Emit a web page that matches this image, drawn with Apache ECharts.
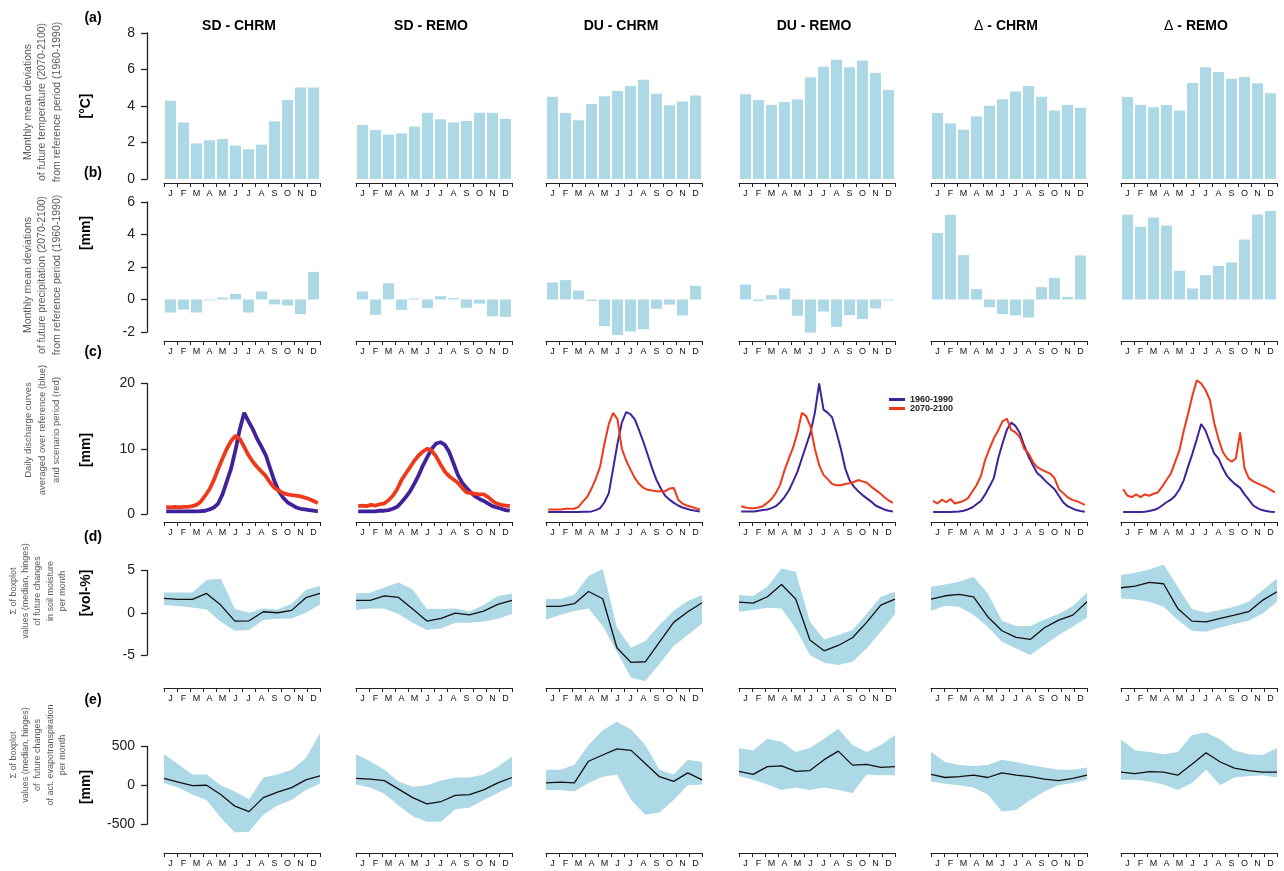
<!DOCTYPE html>
<html>
<head>
<meta charset="utf-8">
<title>Monthly climate change signals</title>
<script src="https://cdn.jsdelivr.net/npm/echarts@6/dist/echarts.min.js"></script>
<style>
  html, body { margin: 0; padding: 0; background: #ffffff; }
  #chart { width: 1284px; height: 871px; }
</style>
</head>
<body>
<div id="chart"></div>
<script>
// ---------------------------------------------------------------------------
// Data
// ---------------------------------------------------------------------------
const monthNames = ['Jan', 'Feb', 'Mar', 'Apr', 'May', 'Jun', 'Jul', 'Aug', 'Sep', 'Oct', 'Nov', 'Dec'];
const columnTitles = ['SD - CHRM', 'SD - REMO', 'DU - CHRM', 'DU - REMO', '\u0394 - CHRM', '\u0394 - REMO'];
const periodNames = ['1960-1990', '2070-2100'];

// (a) monthly mean temperature deviation [°C]
const tempSdChrm    = [4.29, 3.10, 1.95, 2.12, 2.19, 1.83, 1.63, 1.88, 3.16, 4.33, 5.02, 5.02];
const tempSdRemo    = [2.96, 2.68, 2.43, 2.50, 2.87, 3.63, 3.27, 3.10, 3.18, 3.63, 3.63, 3.30];
const tempDuChrm    = [4.51, 3.62, 3.22, 4.11, 4.53, 4.82, 5.10, 5.44, 4.67, 4.04, 4.24, 4.57];
const tempDuRemo    = [4.64, 4.33, 4.05, 4.22, 4.35, 5.57, 6.15, 6.54, 6.12, 6.50, 5.81, 4.88];
const tempDeltaChrm = [3.62, 3.05, 2.70, 3.43, 4.02, 4.37, 4.80, 5.10, 4.51, 3.76, 4.05, 3.91];
const tempDeltaRemo = [4.49, 4.05, 3.93, 4.05, 3.76, 5.26, 6.12, 5.86, 5.50, 5.59, 5.24, 4.70];

// (b) monthly mean precipitation deviation [mm]
const precSdChrm    = [-0.80, -0.62, -0.80, -0.05, 0.12, 0.35, -0.80, 0.49, -0.30, -0.37, -0.90, 1.70];
const precSdRemo    = [0.49, -0.94, 1.00, -0.64, 0.06, -0.53, 0.20, 0.08, -0.51, -0.25, -1.03, -1.07];
const precDuChrm    = [1.05, 1.19, 0.55, -0.08, -1.64, -2.19, -1.97, -1.83, -0.57, -0.31, -0.98, 0.84];
const precDuRemo    = [0.92, -0.08, 0.27, 0.68, -1.00, -2.03, -0.74, -1.68, -0.96, -1.19, -0.55, -0.06];
const precDeltaChrm = [4.10, 5.21, 2.73, 0.64, -0.47, -0.90, -0.98, -1.11, 0.76, 1.33, 0.16, 2.71];
const precDeltaRemo = [5.21, 4.47, 5.05, 4.55, 1.76, 0.68, 1.50, 2.07, 2.28, 3.69, 5.23, 5.44];

// (c) discharge [mm], one value per dekad (3 per month), reference and scenario
const qSdChrmRef     = [0.4,0.4,0.4, 0.4,0.4,0.4, 0.4,0.4,0.45, 0.5,0.7,1.0, 1.6,3.0,5.0, 7.0,9.8,13.0, 15.5,14.2,13.0, 11.5,10.3,9.0, 7.0,5.0,3.5, 2.5,1.8,1.4, 1.0,0.8,0.7, 0.6,0.5,0.4];
const qSdChrmScen    = [1.1,1.0,1.1, 1.0,1.1,1.1, 1.2,1.4,1.9, 2.8,3.8,5.2, 6.9,8.5,10.0, 11.2,12.0,11.5, 10.3,9.0,8.0, 7.2,6.5,5.8, 4.8,4.0,3.6, 3.2,3.0,2.9, 2.8,2.7,2.5, 2.3,2.0,1.7];
const qSdRemoRef     = [0.4,0.4,0.4, 0.4,0.4,0.5, 0.5,0.6,0.8, 1.1,1.8,2.6, 3.5,4.7,6.0, 7.5,8.8,10.0, 10.8,11.0,10.6, 9.5,7.8,6.0, 4.8,4.0,3.3, 2.7,2.3,2.0, 1.6,1.2,1.0, 0.8,0.6,0.5];
const qSdRemoScen    = [1.2,1.3,1.2, 1.4,1.3,1.5, 1.6,2.1,2.8, 3.8,5.2,6.2, 7.2,8.2,9.0, 9.6,10.0,9.7, 8.8,7.6,6.5, 5.8,5.3,4.8, 4.0,3.3,3.2, 3.1,3.0,3.0, 2.6,2.0,1.6, 1.4,1.3,1.2];
const qDuChrmRef     = [0.3,0.3,0.3, 0.3,0.3,0.3, 0.3,0.3,0.35, 0.35,0.4,0.6, 0.9,1.8,3.2, 7.0,10.8,14.0, 15.6,15.3,14.5, 12.8,11.0,9.0, 7.0,5.2,3.9, 2.8,2.2,1.7, 1.3,1.0,0.8, 0.6,0.5,0.4];
const qDuChrmScen    = [0.7,0.7,0.7, 0.7,0.8,0.8, 0.8,1.1,1.9, 2.6,3.9,5.4, 7.3,10.8,13.8, 15.5,14.5,10.0, 8.2,6.8,5.5, 4.6,4.0,3.7, 3.6,3.5,3.5, 3.5,3.9,4.0, 2.2,1.6,1.3, 1.1,0.9,0.7];
const qDuRemoRef     = [0.4,0.4,0.4, 0.4,0.5,0.6, 0.7,0.9,1.2, 1.8,2.6,3.6, 5.0,6.5,8.5, 10.5,12.5,15.5, 20.0,16.0,15.5, 14.8,12.5,10.0, 7.0,5.2,4.2, 3.5,2.9,2.4, 1.9,1.3,1.0, 0.7,0.5,0.4];
const qDuRemoScen    = [1.2,1.0,0.9, 0.9,1.0,1.2, 1.7,2.3,3.2, 4.5,6.7,8.5, 10.2,12.5,15.5, 15.0,13.4,10.0, 7.5,6.0,5.3, 4.6,4.4,4.4, 4.6,4.7,4.9, 5.2,5.0,4.8, 4.2,3.7,3.2, 2.6,2.1,1.7];
const qDeltaChrmRef  = [0.3,0.3,0.3, 0.3,0.3,0.35, 0.4,0.5,0.7, 1.0,1.5,2.0, 3.0,4.2,5.5, 8.5,10.8,12.9, 14.0,13.5,12.4, 10.5,8.8,7.5, 6.3,5.7,5.0, 4.4,3.8,2.8, 1.8,1.2,0.9, 0.6,0.45,0.35];
const qDeltaChrmScen = [2.0,1.6,2.2, 1.8,2.3,1.6, 1.8,2.0,2.4, 3.4,4.4,5.8, 8.3,10.0,11.6, 12.8,14.2,14.6, 12.9,12.5,11.8, 10.0,9.3,8.0, 7.2,6.8,6.5, 6.2,5.5,3.8, 3.2,2.6,2.2, 2.0,1.7,1.4];
const qDeltaRemoRef  = [0.3,0.3,0.3, 0.3,0.3,0.35, 0.45,0.6,0.85, 1.3,1.8,2.2, 2.8,3.8,5.2, 7.3,9.3,11.5, 13.8,12.8,11.0, 9.3,8.5,7.0, 5.8,5.1,4.5, 4.0,3.0,2.2, 1.3,0.9,0.6, 0.45,0.35,0.3];
const qDeltaRemoScen = [3.8,2.8,2.6, 3.0,2.6,3.0, 2.8,3.1,3.3, 4.2,5.2,6.2, 8.0,9.8,12.8, 15.4,18.2,20.5, 20.0,19.0,17.5, 14.0,11.5,9.5, 8.5,8.0,8.5, 12.5,7.0,5.5, 5.0,4.7,4.4, 4.1,3.7,3.3];

// (d) soil moisture change [vol-%]: lower hinge, median, upper hinge
const smLowSdChrm    = [0.91, 0.79, 0.63, 0.39, -1.07, -2.13, -2.05, -0.87, -0.71, -0.67, 0.00, 0.99];
const smMedSdChrm    = [1.70, 1.58, 1.58, 2.29, 0.91, -0.99, -0.95, 0.12, 0.00, 0.28, 1.78, 2.29];
const smUppSdChrm    = [2.40, 2.40, 2.40, 3.87, 4.02, 0.43, 0.00, 0.51, 0.39, 1.03, 2.68, 3.16];
const smLowSdRemo    = [0.32, 0.51, 0.51, -0.16, -1.18, -2.05, -1.85, -1.18, -1.18, -1.03, -0.71, -0.16];
const smMedSdRemo    = [1.46, 1.46, 2.00, 1.81, 0.43, -0.99, -0.67, -0.04, -0.24, 0.20, 0.99, 1.46];
const smUppSdRemo    = [2.29, 2.37, 3.00, 3.59, 2.76, 0.43, 0.43, 0.51, 0.16, 0.91, 1.97, 2.29];
const smLowDuChrm    = [-0.79, -0.28, 0.20, 0.51, -1.58, -4.62, -7.69, -8.09, -6.07, -3.94, -2.64, -1.26];
const smMedDuChrm    = [0.75, 0.75, 1.07, 2.52, 1.66, -4.14, -5.88, -5.80, -3.47, -1.14, 0.12, 1.18];
const smUppDuChrm    = [1.62, 1.62, 2.13, 4.34, 5.17, -1.74, -4.14, -3.35, -1.46, 0.24, 1.38, 2.09];
const smLowDuRemo    = [0.12, 0.32, 0.59, 0.51, -1.85, -5.01, -5.92, -6.19, -5.80, -4.22, -2.25, -0.16];
const smMedDuRemo    = [1.26, 1.14, 1.89, 3.35, 1.62, -3.23, -4.50, -3.87, -2.96, -1.14, 0.91, 1.62];
const smUppDuRemo    = [2.09, 1.97, 3.08, 5.25, 4.85, -1.07, -3.16, -2.64, -2.05, -0.16, 1.89, 2.49];
const smLowDeltaChrm = [0.24, 0.83, 0.71, -0.28, -1.66, -3.43, -4.22, -5.01, -3.83, -2.64, -1.66, -0.55];
const smMedDeltaChrm = [1.62, 2.01, 2.17, 1.89, -0.47, -2.13, -2.92, -3.16, -1.78, -0.87, -0.28, 1.30];
const smUppDeltaChrm = [3.08, 3.35, 3.67, 4.26, 2.29, -0.95, -1.58, -1.58, -0.79, -0.16, 0.79, 2.37];
const smLowDeltaRemo = [1.70, 1.58, 1.30, 0.71, -0.87, -2.13, -2.25, -1.74, -1.34, -0.95, -0.08, 1.30];
const smMedDeltaRemo = [2.96, 3.16, 3.59, 3.43, 0.51, -0.99, -1.07, -0.67, -0.28, 0.12, 1.50, 2.49];
const smUppDeltaRemo = [4.46, 4.73, 5.13, 5.72, 3.08, 0.43, 0.00, 0.32, 0.71, 1.30, 2.68, 4.06];

// (e) actual evapotranspiration change [mm]: lower hinge, median, upper hinge
const etLowSdChrm    = [30, -30, -120, -190, -420, -610, -600, -380, -260, -190, -60, 20];
const etMedSdChrm    = [90, 40, -5, 0, -120, -270, -340, -160, -90, -30, 70, 120];
const etUppSdChrm    = [400, 270, 140, 140, 0, -80, -180, 100, 140, 200, 350, 670];
const etLowSdRemo    = [10, -30, -110, -260, -400, -470, -470, -310, -290, -190, -100, -10];
const etMedSdRemo    = [90, 80, 60, -50, -160, -240, -210, -130, -120, -60, 30, 100];
const etUppSdRemo    = [400, 310, 200, 50, -20, 0, 60, 100, 100, 140, 240, 370];
const etLowDuChrm    = [-60, -60, -80, 30, 110, 140, -190, -380, -350, -190, 0, 10];
const etMedDuChrm    = [30, 40, 30, 310, 390, 470, 450, 280, 110, 50, 160, 70];
const etUppDuChrm    = [200, 200, 260, 520, 710, 820, 720, 520, 200, 140, 330, 300];
const etLowDuRemo    = [120, 70, 10, -60, -30, -60, -30, -60, -100, 140, 130, 130];
const etMedDuRemo    = [180, 140, 240, 250, 180, 190, 330, 440, 260, 270, 230, 240];
const etUppDuRemo    = [480, 450, 600, 560, 430, 480, 600, 730, 520, 430, 520, 650];
const etLowDeltaChrm = [50, 20, 0, -30, -120, -340, -320, -190, -80, 0, 30, 70];
const etMedDeltaChrm = [140, 100, 110, 130, 100, 160, 130, 110, 80, 60, 90, 130];
const etUppDeltaChrm = [430, 300, 260, 250, 260, 330, 300, 260, 230, 200, 200, 230];
const etLowDeltaRemo = [70, 70, 50, 10, -60, 30, 200, 0, 100, 120, 130, 100];
const etMedDeltaRemo = [170, 150, 175, 170, 130, 270, 420, 300, 220, 190, 170, 170];
const etUppDeltaRemo = [590, 450, 430, 400, 430, 650, 680, 590, 450, 400, 390, 480];

// Per-column grouping of the arrays above
const panelTemp  = [tempSdChrm, tempSdRemo, tempDuChrm, tempDuRemo, tempDeltaChrm, tempDeltaRemo];
const panelPrec  = [precSdChrm, precSdRemo, precDuChrm, precDuRemo, precDeltaChrm, precDeltaRemo];
const panelQRef  = [qSdChrmRef, qSdRemoRef, qDuChrmRef, qDuRemoRef, qDeltaChrmRef, qDeltaRemoRef];
const panelQScen = [qSdChrmScen, qSdRemoScen, qDuChrmScen, qDuRemoScen, qDeltaChrmScen, qDeltaRemoScen];
const panelSoil  = [
  [smLowSdChrm, smMedSdChrm, smUppSdChrm], [smLowSdRemo, smMedSdRemo, smUppSdRemo],
  [smLowDuChrm, smMedDuChrm, smUppDuChrm], [smLowDuRemo, smMedDuRemo, smUppDuRemo],
  [smLowDeltaChrm, smMedDeltaChrm, smUppDeltaChrm], [smLowDeltaRemo, smMedDeltaRemo, smUppDeltaRemo]
];
const panelEvap  = [
  [etLowSdChrm, etMedSdChrm, etUppSdChrm], [etLowSdRemo, etMedSdRemo, etUppSdRemo],
  [etLowDuChrm, etMedDuChrm, etUppDuChrm], [etLowDuRemo, etMedDuRemo, etUppDuRemo],
  [etLowDeltaChrm, etMedDeltaChrm, etUppDeltaChrm], [etLowDeltaRemo, etMedDeltaRemo, etUppDeltaRemo]
];

// ---------------------------------------------------------------------------
// Layout and style
// ---------------------------------------------------------------------------
const FONT = '"Liberation Sans", Arial, Helvetica, sans-serif';
const BAR_COLOR = '#ADD8E6';
const REF_COLOR = '#40229A';
const SCEN_COLOR = '#EE3A1A';
const AXIS_COLOR = '#222222';

const colLeft = [164, 356, 546, 739, 931, 1121];
const colWidth = 156;

// pixel rows: tick range drawn on the y axis, data range of the plotting region
const rows = [
  { tickMin: 0,    tickMax: 8,   interval: 2,   yTop: 33,    yBot: 179, dataMin: 0,    dataMax: 8,    monthAxisY: 183, xMax: 1 },
  { tickMin: -2,   tickMax: 6,   interval: 2,   yTop: 202,   yBot: 332, dataMin: -2.5, dataMax: 6,    monthAxisY: 341, xMax: 1 },
  { tickMin: 0,    tickMax: 20,  interval: 10,  yTop: 383.5, yBot: 514, dataMin: -0.5, dataMax: 21.5, monthAxisY: 522, xMax: 36 },
  { tickMin: -5,   tickMax: 5,   interval: 5,   yTop: 570.5, yBot: 655, dataMin: -8.5, dataMax: 6.2,  monthAxisY: 688, xMax: 11 },
  { tickMin: -500, tickMax: 500, interval: 500, yTop: 746.5, yBot: 824, dataMin: -700, dataMax: 850,  monthAxisY: 853, xMax: 11 }
];

const grids = [], xAxes = [], yAxes = [], series = [];

function addPanel(r, c) {
  const row = rows[r];
  const ppu = (row.yBot - row.yTop) / (row.tickMax - row.tickMin);
  const top = row.yTop + (row.tickMax - row.dataMax) * ppu;
  const height = (row.dataMax - row.dataMin) * ppu;
  const g = grids.length;
  grids.push({ left: colLeft[c], top: top, width: colWidth, height: height, containLabel: false, outerBoundsMode: 'none' });
  const cat = xAxes.length;
  xAxes.push({
    gridIndex: g, type: 'category', position: 'bottom', data: monthNames, boundaryGap: true,
    offset: row.monthAxisY - (top + height),
    axisLine: { show: true, onZero: false, lineStyle: { color: AXIS_COLOR, width: 1 } },
    axisTick: { show: true, interval: 0, length: 4, lineStyle: { color: AXIS_COLOR, width: 1 } },
    axisLabel: { interval: 0, formatter: function (v) { return v.charAt(0); }, fontSize: 9, color: '#111', margin: 6, fontFamily: FONT },
    splitLine: { show: false }
  });
  const val = xAxes.length;
  xAxes.push({ gridIndex: g, type: 'value', position: 'top', min: 0, max: row.xMax, show: false,
    axisLine: { onZero: false }, splitLine: { show: false } });
  const y = yAxes.length;
  yAxes.push({ gridIndex: g, type: 'value', min: row.dataMin, max: row.dataMax, show: false,
    axisLine: { onZero: false }, splitLine: { show: false } });
  return { g: g, cat: cat, val: val, y: y };
}

function addValueAxis(r) {
  const row = rows[r];
  const g = grids.length;
  grids.push({ left: 147, top: row.yTop, width: 4, height: row.yBot - row.yTop, containLabel: false, outerBoundsMode: 'none' });
  xAxes.push({ gridIndex: g, type: 'value', min: 0, max: 1, show: false, splitLine: { show: false } });
  yAxes.push({
    gridIndex: g, type: 'value', position: 'left', min: row.tickMin, max: row.tickMax, interval: row.interval,
    axisLine: { show: true, onZero: false, lineStyle: { color: AXIS_COLOR, width: 1.3 } },
    axisTick: { show: true, length: 6, lineStyle: { color: AXIS_COLOR, width: 1.3 } },
    axisLabel: { fontSize: 14, color: '#222', margin: 12, fontFamily: FONT },
    splitLine: { show: false }
  });
}

// hinge band: one polygon through the upper hinges and back along the lower hinges
function renderBand(params, api) {
  if (params.dataIndexInside !== 0) return null;
  const n = params.dataInsideLength;
  const pts = [];
  for (let j = 0; j < n; j++) pts.push(api.coord([api.value(0, j), api.value(2, j)]));
  for (let j = n - 1; j >= 0; j--) pts.push(api.coord([api.value(0, j), api.value(1, j)]));
  return { type: 'polygon', shape: { points: pts }, style: { fill: BAR_COLOR, stroke: null } };
}

for (let c = 0; c < 6; c++) {
  // (a) temperature bars
  let ax = addPanel(0, c);
  series.push({ type: 'bar', name: 'temperature ' + columnTitles[c], xAxisIndex: ax.cat, yAxisIndex: ax.y,
    data: panelTemp[c], barCategoryGap: '15%', itemStyle: { color: BAR_COLOR }, silent: true });

  // (b) precipitation bars
  ax = addPanel(1, c);
  series.push({ type: 'bar', name: 'precipitation ' + columnTitles[c], xAxisIndex: ax.cat, yAxisIndex: ax.y,
    data: panelPrec[c], barCategoryGap: '15%', itemStyle: { color: BAR_COLOR }, silent: true });

  // (c) discharge curves
  ax = addPanel(2, c);
  const lw = c < 2 ? 3.8 : 2;
  [[panelQRef[c], REF_COLOR, periodNames[0]], [panelQScen[c], SCEN_COLOR, periodNames[1]]].forEach(function (s) {
    series.push({ type: 'line', name: s[2], xAxisIndex: ax.val, yAxisIndex: ax.y,
      data: s[0].map(function (v, k) { return [k + 0.5, v]; }),
      symbol: 'none', lineStyle: { color: s[1], width: lw }, itemStyle: { color: s[1] }, silent: true });
  });

  // (d) soil moisture and (e) evapotranspiration: hinge band + median
  [[3, panelSoil[c]], [4, panelEvap[c]]].forEach(function (p) {
    const a = addPanel(p[0], c);
    const low = p[1][0], med = p[1][1], upp = p[1][2];
    series.push({ type: 'custom', name: 'hinges', xAxisIndex: a.val, yAxisIndex: a.y,
      data: low.map(function (v, i) { return [i, v, upp[i]]; }),
      encode: { x: 0, y: [1, 2] }, renderItem: renderBand, clip: true, silent: true, z: 2 });
    series.push({ type: 'line', name: 'median', xAxisIndex: a.val, yAxisIndex: a.y,
      data: med.map(function (v, i) { return [i, v]; }),
      symbol: 'none', lineStyle: { color: '#111', width: 1.3 }, z: 5, silent: true });
  });
}
for (let r = 0; r < rows.length; r++) addValueAxis(r);

// ---------------------------------------------------------------------------
// Static text: column titles, panel letters, units and row descriptions
// ---------------------------------------------------------------------------
const graphics = [];
columnTitles.forEach(function (t, c) {
  const isDelta = t.charAt(0) === '\u0394';
  graphics.push({
    type: 'text', x: colLeft[c] + colWidth / 2 - 3, y: 26,
    style: {
      text: isDelta ? '{d|\u0394}{b|' + t.slice(1) + '}' : '{b|' + t + '}',
      align: 'center', verticalAlign: 'middle',
      rich: {
        d: { fontSize: 14, fontFamily: FONT, fontWeight: 'normal', fill: '#000' },
        b: { fontSize: 14, fontFamily: FONT, fontWeight: 'bold', fill: '#000' }
      }
    }
  });
});

const panelLetters = [['(a)', 18], ['(b)', 173], ['(c)', 352], ['(d)', 537], ['(e)', 700]];
panelLetters.forEach(function (p) {
  graphics.push({ type: 'text', x: 93, y: p[1],
    style: { text: p[0], fontSize: 14, fontWeight: 'bold', fontFamily: FONT, fill: '#000', align: 'center', verticalAlign: 'middle' } });
});

const unitLabels = [['[\u00B0C]', 106], ['[mm]', 233], ['[mm]', 450], ['[vol-%]', 593], ['[mm]', 787]];
unitLabels.forEach(function (u) {
  graphics.push({ type: 'text', x: 86, y: u[1], rotation: Math.PI / 2,
    style: { text: u[0], fontSize: 14, fontWeight: 'bold', fontFamily: FONT, fill: '#000', align: 'center', verticalAlign: 'middle' } });
});

const rowDescriptions = [
  { lines: ['Monthly mean deviations', 'of future temperature (2070-2100)', 'from reference period (1960-1990)'], x: 42.5, y: 102, size: 10.5, lh: 14.5 },
  { lines: ['Monthly mean deviations', 'of future precipitation (2070-2100)', 'from reference period (1960-1990)'], x: 42.5, y: 275, size: 10.5, lh: 14.5 },
  { lines: ['Daily discharge curves', 'averaged over reference (blue)', 'and scenario period (red)'], x: 42, y: 430, size: 9.5, lh: 14 },
  { lines: ['\u03A3 of boxplot', 'values (median, hinges)', 'of future changes', 'in soil moisture', 'per month'], x: 38, y: 591, size: 9, lh: 12.2 },
  { lines: ['\u03A3 of boxplot', 'values (median, hinges)', 'of  future changes', 'of act. evapotranspiration', 'per month'], x: 38, y: 755, size: 9, lh: 12.2 }
];
rowDescriptions.forEach(function (d) {
  graphics.push({ type: 'text', x: d.x, y: d.y, rotation: Math.PI / 2,
    style: { text: d.lines.join('\n'), fontSize: d.size, fontFamily: FONT, fill: '#5a5a5a',
      align: 'center', verticalAlign: 'middle', lineHeight: d.lh } });
});

// ---------------------------------------------------------------------------
const chart = echarts.init(document.getElementById('chart'), null, { renderer: 'canvas' });
chart.setOption({
  backgroundColor: '#ffffff',
  animation: false,
  textStyle: { fontFamily: FONT },
  grid: grids,
  xAxis: xAxes,
  yAxis: yAxes,
  series: series,
  legend: {
    data: periodNames, left: 889, top: 395, orient: 'vertical', icon: 'rect',
    itemWidth: 16, itemHeight: 3, itemGap: 0, padding: 0, selectedMode: false,
    textStyle: { fontSize: 9, fontWeight: 'bold', color: '#222', fontFamily: FONT }
  },
  graphic: graphics
});
</script>
</body>
</html>
